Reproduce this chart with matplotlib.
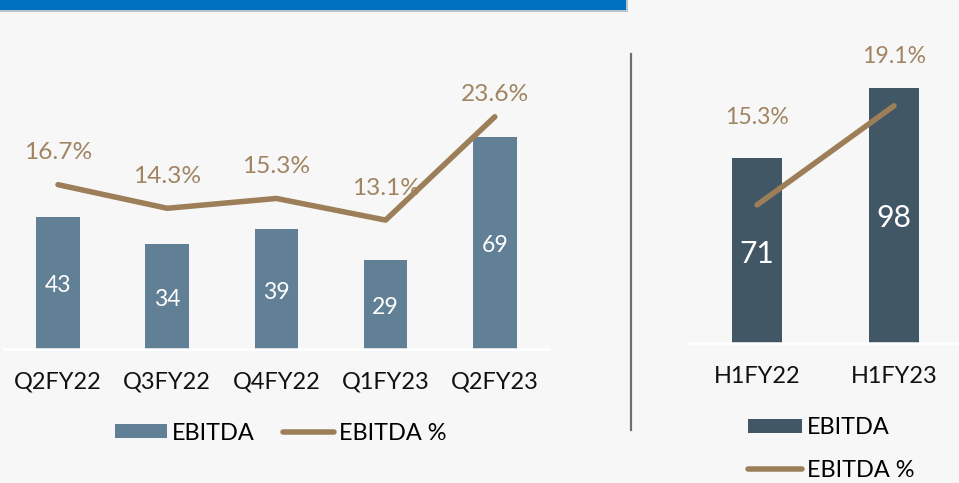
import matplotlib
matplotlib.use("Agg")
import matplotlib.pyplot as plt
from matplotlib.patches import Rectangle, Patch
from matplotlib.lines import Line2D

# ---- data ----
q_categories = ["Q2FY22", "Q3FY22", "Q4FY22", "Q1FY23", "Q2FY23"]
q_ebitda = [43, 34, 39, 29, 69]
q_margin = [16.7, 14.3, 15.3, 13.1, 23.6]

h_categories = ["H1FY22", "H1FY23"]
h_ebitda = [71, 98]
h_margin = [15.3, 19.1]

# ---- style ----
W, H = 959, 483
DPI = 100
BG = "#F7F7F7"
BAR_Q = "#617F95"
BAR_H = "#425766"
LINE_C = "#9C7E58"
LBL_C = "#A08563"
FONT = ["Lato", "DejaVu Sans"]
plt.rcParams["font.family"] = FONT

fig = plt.figure(figsize=(W / DPI, H / DPI), dpi=DPI, facecolor=BG)

def px_axes(x0, x1, ytop, ybot):
    return fig.add_axes([x0 / W, (H - ybot) / H, (x1 - x0) / W, (ybot - ytop) / H])

def pt(px):
    return px * 72.0 / DPI

# top banner
fig.add_artist(Rectangle((0, (H - 11.5) / H), 628 / W, 11.5 / H, transform=fig.transFigure,
                         facecolor="#B9C3CC", edgecolor="none"))
fig.add_artist(Rectangle((0, (H - 10) / H), 626 / W, 10 / H, transform=fig.transFigure,
                         facecolor="#0070C0", edgecolor="none"))
# divider
fig.add_artist(Line2D([631 / W, 631 / W], [(H - 54) / H, (H - 430) / H], transform=fig.transFigure,
                      color="#6E6E75", lw=pt(2.2)))


def style_axes(ax, pad_px):
    ax.set_facecolor("none")
    for s in ["top", "left", "right"]:
        ax.spines[s].set_visible(False)
    ax.spines["bottom"].set_color("#FFFFFF")
    ax.spines["bottom"].set_linewidth(pt(2.5))
    ax.tick_params(axis="x", length=0, pad=pt(pad_px), labelsize=pt(23.5), labelcolor="#111111")
    ax.set_yticks([])


# ---- left chart ----
axL = px_axes(3.4, 549.4, 103, 349)
style_axes(axL, 22)
xq = range(len(q_categories))
barsL = axL.bar(xq, q_ebitda, width=0.40, color=BAR_Q, zorder=2)
axL.set_xlim(-0.5, len(q_categories) - 0.5)
axL.set_ylim(0, 80)
axL.set_xticks(list(xq))
axL.set_xticklabels(q_categories)
for b, v in zip(barsL, q_ebitda):
    axL.annotate(str(v), (b.get_x() + b.get_width() / 2, v / 2), xytext=(0, pt(-3)),
                 textcoords="offset points", ha="center", va="center",
                 color="white", fontsize=pt(23), zorder=5)
axL2 = axL.twinx()
axL2.set_ylim(0, 25)
axL2.axis("off")
axL2.plot(list(xq), q_margin, color=LINE_C, lw=pt(5.5), solid_capstyle="round", zorder=3)
q_lbl_off = [32, 32, 32, 32, 22]
for x, v, o in zip(xq, q_margin, q_lbl_off):
    axL2.annotate(f"{v:.1f}%", (x, v), xytext=(0, pt(o)), textcoords="offset points",
                  ha="center", va="center", color=LBL_C, fontsize=pt(24.5), annotation_clip=False)

fig.legend(handles=[Patch(facecolor=BAR_Q, edgecolor="none", label="EBITDA"),
                    Line2D([], [], color=LINE_C, lw=pt(5.5), solid_capstyle="round", label="EBITDA %")],
           loc="center", bbox_to_anchor=(281 / W, (H - 433) / H), ncol=2, frameon=False,
           fontsize=pt(23.5), handlelength=2.2, handleheight=0.55, handletextpad=0.2,
           columnspacing=1.2, borderaxespad=0, borderpad=0)

# ---- right chart ----
axR = px_axes(688.5, 962.5, 30.1, 343.3)
style_axes(axR, 23)
xh = range(len(h_categories))
barsR = axR.bar(xh, h_ebitda, width=0.36, color=BAR_H, zorder=2)
axR.set_xlim(-0.5, len(h_categories) - 0.5)
axR.set_ylim(0, 120)
axR.set_xticks(list(xh))
axR.set_xticklabels(h_categories)
for b, v in zip(barsR, h_ebitda):
    axR.annotate(str(v), (b.get_x() + b.get_width() / 2, v / 2), xytext=(0, pt(-3)),
                 textcoords="offset points", ha="center", va="center",
                 color="white", fontsize=pt(30), zorder=5)
axR2 = axR.twinx()
axR2.set_ylim(10, 22)
axR2.axis("off")
axR2.plot(list(xh), h_margin, color=LINE_C, lw=pt(5.5), solid_capstyle="round", zorder=3)
h_lbl_off = [87, 49]
for x, v, o in zip(xh, h_margin, h_lbl_off):
    axR2.annotate(f"{v:.1f}%", (x, v), xytext=(0, pt(o)), textcoords="offset points",
                  ha="center", va="center", color=LBL_C, fontsize=pt(23), annotation_clip=False)

fig.legend(handles=[Patch(facecolor=BAR_H, edgecolor="none", label="EBITDA"),
                    Line2D([], [], color=LINE_C, lw=pt(5.5), solid_capstyle="round", label="EBITDA %")],
           loc="upper left", bbox_to_anchor=(748 / W, (H - 417) / H), ncol=1, frameon=False,
           fontsize=pt(23.5), handlelength=2.3, handleheight=0.55, handletextpad=0.2,
           labelspacing=0.92, borderaxespad=0, borderpad=0)

fig.savefig("out.png", dpi=DPI, facecolor=BG)
